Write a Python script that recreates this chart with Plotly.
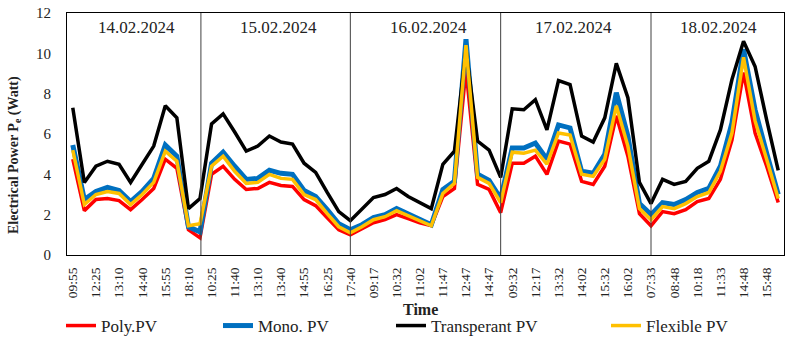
import plotly.graph_objects as go

# ---- data ----
tick_labels = ["09:55", "12:25", "13:10", "14:40", "15:55", "18:10",
               "10:25", "11:40", "13:10", "13:40", "14:55", "16:25", "17:40",
               "09:17", "10:32", "11:02", "11:47", "12:47", "14:47",
               "09:32", "12:17", "13:32", "14:02", "15:32", "16:02",
               "07:33", "08:48", "10:18", "11:33", "14:48", "15:48"]
day_labels = ["14.02.2024", "15.02.2024", "16.02.2024", "17.02.2024", "18.02.2024"]

poly_pv = [4.75, 2.2, 2.75, 2.8, 2.7, 2.25, 2.75, 3.3, 4.75, 4.3, 1.25, 0.85,
           4.0, 4.4, 3.75, 3.25, 3.3, 3.6, 3.45, 3.4, 2.75, 2.45, 1.85, 1.25, 1.0,
           1.3, 1.6, 1.75, 2.0, 1.8, 1.6, 1.45, 2.9, 3.3, 9.2, 3.5, 3.25, 2.1,
           4.55, 4.55, 4.9, 4.0, 5.65, 5.5, 3.65, 3.5, 4.4, 6.9, 4.9, 2.05,
           1.45, 2.15, 2.05, 2.25, 2.65, 2.8, 3.75, 5.7, 9.05, 6.05, 4.4, 2.6]
mono_pv = [5.45, 2.75, 3.15, 3.35, 3.2, 2.65, 3.15, 3.8, 5.45, 4.9, 1.4, 1.15,
           4.55, 5.1, 4.4, 3.75, 3.8, 4.2, 4.05, 4.0, 3.2, 2.9, 2.25, 1.55, 1.25,
           1.5, 1.85, 2.0, 2.3, 2.05, 1.8, 1.5, 3.25, 3.65, 10.7, 4.0, 3.7, 2.8,
           5.3, 5.3, 5.55, 4.75, 6.45, 6.3, 4.15, 4.05, 5.0, 8.05, 5.9, 2.55,
           2.0, 2.6, 2.5, 2.75, 3.1, 3.3, 4.4, 6.55, 10.2, 7.2, 5.05, 3.0]
transparent_pv = [7.3, 3.6, 4.4, 4.65, 4.5, 3.6, 4.5, 5.4, 7.4, 6.8, 2.3, 2.8,
                  6.5, 7.0, 6.1, 5.15, 5.4, 5.9, 5.6, 5.5, 4.55, 4.1, 3.1, 2.15, 1.7,
                  2.25, 2.85, 3.0, 3.3, 2.9, 2.6, 2.3, 4.5, 5.15, 10.2, 5.65, 5.2, 3.85,
                  7.25, 7.2, 7.7, 6.2, 8.65, 8.45, 5.9, 5.6, 6.8, 9.5, 7.8, 3.6,
                  2.55, 3.75, 3.5, 3.65, 4.3, 4.65, 6.2, 8.7, 10.6, 9.35, 6.7, 4.2]
flexible_pv = [5.2, 2.5, 3.0, 3.15, 3.05, 2.5, 3.0, 3.6, 5.15, 4.65, 1.45, 1.55,
               4.4, 4.9, 4.15, 3.55, 3.6, 4.0, 3.8, 3.75, 3.0, 2.75, 2.05, 1.4, 1.1,
               1.4, 1.75, 1.9, 2.2, 1.95, 1.7, 1.45, 3.05, 3.55, 10.4, 3.85, 3.55, 2.6,
               5.1, 5.05, 5.2, 4.5, 6.05, 5.95, 4.0, 3.9, 4.75, 7.4, 5.4, 2.3,
               1.75, 2.4, 2.3, 2.55, 2.9, 3.1, 4.15, 6.05, 9.8, 6.65, 4.75, 2.8]

x = list(range(len(poly_pv)))
tick_vals = x[::2]

FONT = "Liberation Serif"
L, R, T, B = 67, 6, 13, 85
W, H = 790, 340
pw, ph = W - L - R, H - T - B

def px_x(p):
    return (p - L) / pw

def px_y(p):
    return (H - B - p) / ph

series = [
    ("Poly.PV", poly_pv, "#FF0000", 3.5, "legend"),
    ("Mono. PV", mono_pv, "#0070C0", 5, "legend2"),
    ("Transperant PV", transparent_pv, "#000000", 3.5, "legend3"),
    ("Flexible PV", flexible_pv, "#FFC000", 3.5, "legend4"),
]

fig = go.Figure()
for name, vals, color, w, leg in series:
    fig.add_trace(go.Scatter(x=x, y=vals, mode="lines", name=name,
                             line=dict(color=color, width=w), legend=leg))

# day separators
for xb in [11.08, 24.0, 37.0, 50.0]:
    fig.add_shape(type="line", xref="x", yref="paper", x0=xb, x1=xb, y0=0, y1=1,
                  line=dict(color="#404040", width=1))

day_px = [136.5, 278.5, 428, 573.7, 718.7]
for lab, xp in zip(day_labels, day_px):
    fig.add_annotation(text=lab, xref="paper", yref="paper", x=px_x(xp), y=px_y(27.5),
                       showarrow=False, font=dict(family=FONT, size=17, color="#222"),
                       xanchor="center", yanchor="middle")

fig.add_annotation(text="<b>Electrical Power P<sub>e</sub> (Watt)</b>", textangle=-90,
                   xref="paper", yref="paper", x=px_x(14), y=px_y(155), showarrow=False,
                   font=dict(family=FONT, size=14, color="#222"),
                   xanchor="center", yanchor="middle")
fig.add_annotation(text="<b>Time</b>", xref="paper", yref="paper", x=px_x(420), y=px_y(309),
                   showarrow=False, font=dict(family=FONT, size=16, color="#222"),
                   xanchor="center", yanchor="middle")

leg_common = dict(orientation="h", yanchor="middle", xanchor="left",
                  font=dict(family=FONT, size=17, color="#222"),
                  bgcolor="rgba(0,0,0,0)", yref="paper", xref="paper")
leg_x = [61, 218, 391, 606]
fig.update_layout(
    legend=dict(x=px_x(leg_x[0]), y=px_y(326), **leg_common),
    legend2=dict(x=px_x(leg_x[1]), y=px_y(326), **leg_common),
    legend3=dict(x=px_x(leg_x[2]), y=px_y(326), **leg_common),
    legend4=dict(x=px_x(leg_x[3]), y=px_y(326), **leg_common),
)

fig.update_layout(
    width=W, height=H,
    margin=dict(l=L, r=R, t=T, b=B, autoexpand=False),
    paper_bgcolor="white", plot_bgcolor="white",
    showlegend=True,
    font=dict(family=FONT, color="#222"),
)
fig.update_xaxes(range=[-0.5, len(x) - 0.5], tickvals=tick_vals, ticktext=tick_labels,
                 tickangle=-90, tickfont=dict(family=FONT, size=13.5, color="#222"),
                 showgrid=False, zeroline=False, showline=True, linecolor="black",
                 linewidth=1.2, mirror=True, ticks="", ticklabelstandoff=6,
                 automargin=False)
fig.update_yaxes(range=[0, 12], tickvals=[0, 2, 4, 6, 8, 10, 12],
                 tickfont=dict(family=FONT, size=15, color="#222"),
                 showgrid=False, zeroline=False, showline=True, linecolor="black",
                 linewidth=1.2, mirror=True, ticks="", ticklabelstandoff=12,
                 automargin=False)

fig.write_html("out.html")
